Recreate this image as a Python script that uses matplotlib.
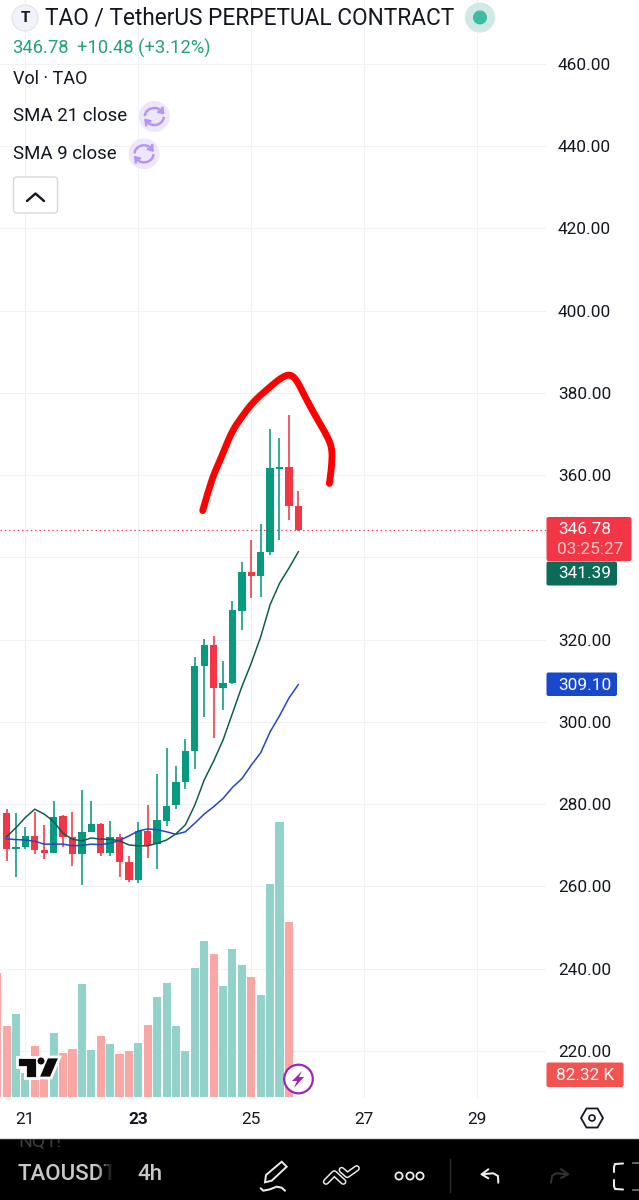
import numpy as np
import matplotlib
matplotlib.use('Agg')
import matplotlib.pyplot as plt
from matplotlib.patches import Circle, FancyBboxPatch, Polygon, Rectangle, RegularPolygon

plt.rcParams['font.family'] = ['Roboto', 'DejaVu Sans']

# ---------- data ----------
opens = [277.8, 269.0, 269.5, 272.3, 268.9, 268.1, 277.1, 272.1, 267.9, 273.3, 275.2, 268.2, 272.1, 265.9, 261.7, 273.6,
         270.3, 276.0, 279.8, 285.4, 293.0, 313.7, 318.7, 308.3, 309.5, 327.1, 336.4, 335.4, 341.4, 361.6, 362.1, 352.4]
closes = [269.0, 269.5, 272.3, 268.8, 268.1, 277.0, 272.1, 267.9, 273.3, 275.2, 268.1, 272.0, 265.9, 261.6, 273.6, 270.1,
          276.1, 279.6, 285.5, 293.0, 313.7, 318.7, 308.3, 309.5, 327.2, 336.4, 335.4, 341.3, 361.7, 362.1, 352.4, 346.78]
highs = [278.8, 277.8, 274.4, 278.0, 274.9, 280.9, 277.4, 278.2, 283.5, 280.9, 275.4, 275.9, 272.8, 267.3, 275.6, 279.7,
         287.3, 293.6, 289.3, 295.8, 315.7, 320.3, 320.9, 314.9, 329.3, 339.0, 344.3, 348.2, 371.3, 369.0, 374.7, 356.1]
lows = [266.1, 262.4, 269.0, 267.9, 266.8, 268.1, 269.5, 265.1, 260.3, 273.3, 267.3, 267.5, 262.3, 261.1, 260.9, 267.0,
        264.2, 274.6, 278.9, 283.6, 288.5, 301.1, 296.2, 302.8, 309.2, 322.4, 330.2, 330.5, 340.6, 344.3, 349.1, 346.5]
sma9 = [272.1, 274.3, 276.8, 278.8, 277.6, 275.8, 272.9, 271.5, 271.1, 271.8, 271.5, 271.5, 271.1, 270.1, 269.9, 269.9,
        270.5, 271.3, 272.8, 275.0, 279.8, 285.9, 290.5, 295.6, 302.1, 308.6, 314.3, 320.7, 328.5, 333.7, 337.4, 341.39]
sma21 = [271.6, 271.4, 271.3, 271.0, 270.3, 270.3, 270.3, 269.9, 270.0, 270.3, 270.2, 270.5, 271.2, 272.3, 273.5, 274.0,
         273.8, 273.3, 272.7, 273.3, 275.4, 277.6, 279.4, 281.4, 284.1, 286.2, 289.5, 292.5, 297.6, 301.5, 305.8, 309.10]
# volume bars begin one slot left of the first visible candle
volumes = [58.2, 33.5, 39.2, 11.0, 23.9, 11.0, 30.2, 20.5, 22.5, 53.0, 22.0, 28.6, 24.9, 20.0, 21.6, 25.5, 33.8,
           47.1, 53.7, 33.2, 21.6, 60.8, 73.7, 67.4, 52.4, 69.6, 62.0, 56.7, 48.0, 100.3, 129.7, 82.32]
volume_up = [0, 0, 1, 1, 0, 0, 1, 0, 0, 1, 1, 0, 1, 0, 0, 1, 0,
             1, 1, 1, 1, 1, 1, 0, 1, 1, 1, 0, 1, 1, 1, 0]
# hand-drawn red arc, in candle index / price
arc_idx = [20.84, 21.26, 21.97, 22.85, 23.92, 24.98, 26.22, 27.99, 29.23, 30.12, 30.82, 31.71, 32.77, 34.01, 34.61, 34.54, 34.30]
arc_price = [351.4, 354.8, 360.0, 364.5, 370.6, 374.2, 377.9, 381.5, 383.8, 384.6, 383.2, 379.1, 374.6, 369.8, 366.5, 362.1, 358.0]
price_ticks = list(range(220, 461, 20))
hidden_price_ticks = [340]  # covered by the price tags in the reference
date_tick_idx = [2, 14, 26, 38, 50]
date_labels = ['21', '23', '25', '27', '29']
last_price = 346.78

GREEN, RED = '#089981', '#F23645'
VOL_G, VOL_R = '#92D2CA', '#FAA6A4'
W, H = 639, 1200
PT = 0.72  # points per pixel at dpi 100


def rounded(xs, ys, passes=3):
    """Round the corners of a hand-drawn stroke (corner cutting, ends kept)."""
    p = np.column_stack([xs, ys])
    for _ in range(passes):
        q = np.empty((2 * len(p) - 2, 2))
        q[0::2] = 0.75 * p[:-1] + 0.25 * p[1:]
        q[1::2] = 0.25 * p[:-1] + 0.75 * p[1:]
        p = np.vstack([p[0], q, p[-1]])
    return p[:, 0], p[:, 1]


fig = plt.figure(figsize=(W / 100, H / 100), dpi=100, facecolor='white')
chart_pos = [0, (H - 1098) / H, 546 / W, 1098 / H]
xlim = (-0.70, 57.32)

# ---------- price pane ----------
ax = fig.add_axes(chart_pos, zorder=1)
ax.set_xlim(*xlim)
ax.set_ylim(208.57, 475.56)
for s in ax.spines.values():
    s.set_visible(False)
ax.grid(True, color='#F0F1F4', lw=0.75)
ax.set_axisbelow(True)
ax.yaxis.tick_right()
ax.set_yticks(price_ticks)
ax.set_yticklabels(['' if p in hidden_price_ticks else f'{p:.2f}' for p in price_ticks])
ax.set_xticks(date_tick_idx)
ax.set_xticklabels(date_labels)
ax.tick_params(axis='y', length=0, pad=8.6, labelsize=12.4, labelcolor='#131722')
ax.tick_params(axis='x', length=0, pad=10.2, labelsize=12.4, labelcolor='#131722')
ax.get_xticklabels()[1].set_fontweight('bold')

x = np.arange(len(opens))
o, c = np.array(opens), np.array(closes)
cols = [GREEN if cc >= oo else RED for oo, cc in zip(o, c)]
ax.vlines(x, lows, highs, colors=cols, lw=1.6 * PT, zorder=3)
ax.bar(x, np.abs(c - o), bottom=np.minimum(o, c), width=0.78, color=cols, linewidth=0, zorder=4)
ax.plot(x, sma9, color='#0B5C4C', lw=1.5 * PT, zorder=5)
ax.plot(x, sma21, color='#2145C4', lw=1.5 * PT, zorder=5)
ax.axhline(last_price, color=RED, lw=1.2 * PT, ls=(0, (1.2, 2.4)), zorder=2)
arc_x, arc_y = rounded(arc_idx, arc_price)
ax.plot(arc_x, arc_y, color='#FE0000', lw=6.8 * PT, solid_capstyle='round', solid_joinstyle='round', zorder=6)

# ---------- volume pane ----------
vx = fig.add_axes(chart_pos, zorder=2)
vx.patch.set_alpha(0)
vx.set_xlim(*xlim)
vx.set_ylim(-0.61, 517.8)
vx.axis('off')
vx.bar(np.arange(len(volumes)) - 1, volumes, width=0.86,
       color=[VOL_G if u else VOL_R for u in volume_up], linewidth=0)

# ---------- interface layer, in screen pixels ----------
ui = fig.add_axes([0, 0, 1, 1], zorder=3)
ui.patch.set_alpha(0)
ui.set_xlim(0, W)
ui.set_ylim(H, 0)
ui.axis('off')


def tag(x0, x1, y0, y1, color):
    ui.add_patch(FancyBboxPatch((x0 + 2, y0 + 2), x1 - x0 - 4, y1 - y0 - 4,
                                boxstyle='round,pad=2,rounding_size=2', fc=color, ec='none'))


tag(546.5, 631.5, 517, 561, '#F23645')
ui.text(585, 529.5, '346.78', color='white', fontsize=12.4, ha='center', va='center')
ui.text(590.5, 550, '03:25:27', color='#FBC4C9', fontsize=12.4, ha='center', va='center')
tag(546.5, 617, 561.5, 585.5, '#0B6B58')
ui.text(585, 574, '341.39', color='white', fontsize=12.4, ha='center', va='center')
tag(546.5, 617, 672.5, 696, '#1848CC')
ui.text(585, 685, '309.10', color='white', fontsize=12.4, ha='center', va='center')
tag(546.5, 623.5, 1062.5, 1087, '#F05350')
ui.text(585, 1075, '82.32 K', color='white', fontsize=12.4, ha='center', va='center')

# header
ui.add_patch(Circle((25, 18), 13, fc='#F0F3FA', ec='#DFE2EA', lw=0.8))
ui.text(25, 18.5, 'T', fontsize=11, fontweight='bold', color='#131722', ha='center', va='center')
ui.text(45, 18, 'TAO / TetherUS PERPETUAL CONTRACT', fontsize=16.3, color='#131722', ha='left', va='center')
ui.add_patch(Circle((480, 17.5), 15, fc='#CFE9E4', ec='none'))
ui.add_patch(Circle((480, 17.5), 7, fc='#3DBBA3', ec='none'))
ui.text(12, 48, '346.78', fontsize=13.2, color='#26A17B', ha='left', va='center')
ui.text(77, 48, '+10.48 (+3.12%)', fontsize=13.2, color='#26A17B', ha='left', va='center')
ui.text(13, 79, 'Vol · TAO', fontsize=13, color='#131722', ha='left', va='center')
ui.text(13, 116, 'SMA 21 close', fontsize=13.4, color='#131722', ha='left', va='center')
ui.text(13, 154, 'SMA 9 close', fontsize=13.4, color='#131722', ha='left', va='center')


def refresh(cx, cy):
    ui.add_patch(Circle((cx, cy), 15.5, fc='#EEE6FB', ec='none'))
    col = '#B393F5'
    for a0, a1, tip in [(190, 335, 1), (10, 155, -1)]:
        t = np.radians(np.linspace(a0, a1, 30))
        ui.plot(cx + 9.5 * np.cos(t), cy + 8.5 * np.sin(t), color=col, lw=2.0 * PT * 1.2)
        ex, ey = cx + 9.5 * np.cos(t[-1]), cy + 8.5 * np.sin(t[-1])
        ui.plot([ex - 4.5 * tip, ex, ex - 0.5 * tip], [ey - 1.0 * tip, ey, ey - 5 * tip], color=col, lw=2.0 * PT * 1.2)


refresh(154.3, 116.5)
refresh(144, 153.8)
ui.add_patch(FancyBboxPatch((15.5, 179), 40, 32, boxstyle='round,pad=2,rounding_size=3',
                            fc='white', ec='#D6D8DE', lw=1.0))
ui.plot([27, 35.5, 44], [201, 193.5, 201], color='#131722', lw=2.4 * PT, solid_capstyle='round')

# TradingView mark
mark = dict(fc='#0B0B0B', ec='white', lw=2.0, joinstyle='miter')
ui.add_patch(Polygon([(17, 1057), (37, 1057), (37, 1078), (25, 1078), (25, 1067), (17, 1067)], **mark))
ui.add_patch(Polygon([(47, 1057), (60, 1057), (51, 1078), (38, 1078)], **mark))
ui.add_patch(Circle((41, 1061), 4.2, fc='#0B0B0B', ec='white', lw=1.0))

# lightning badge
ui.add_patch(Circle((298.5, 1079), 14.3, fc='white', ec='#9C27B0', lw=1.6))
ui.add_patch(Polygon([(302, 1071), (292, 1081), (297, 1081), (294, 1088), (304, 1077), (299, 1077)],
                     fc='#9C27B0', ec='none'))

# settings hexagon
ui.add_patch(RegularPolygon((592, 1118), 6, radius=11, orientation=np.pi / 2, fc='white', ec='#131722', lw=1.3))
ui.add_patch(Circle((592, 1118), 3, fc='white', ec='#131722', lw=1.2))

# bottom toolbar
ui.add_patch(Rectangle((0, 1138), W, 62, fc='black', ec='none'))
ui.plot([0, W], [1138, 1138], color='#E4E4E4', lw=1)
band = Rectangle((0, 1138.5), W, 62, transform=ui.transData)
nq = ui.text(18, 1142, 'NQ1!', fontsize=14, color='#3E3E3E', ha='left', va='center')
nq.set_clip_path(band)
nq.set_clip_on(True)
ui.text(18, 1175, 'TAOUSDT', fontsize=16, fontweight='medium', color='#C8C8C8', ha='left', va='center')
for i in range(12):
    ui.add_patch(Rectangle((98 + i * 1.4, 1160), 1.5, 30, fc='black', ec='none', alpha=min(1, (i + 1) / 11), zorder=4))
ui.add_patch(Rectangle((114, 1160), 12, 30, fc='black', ec='none', zorder=4))
ui.text(137, 1175, '4h', fontsize=16, fontweight='medium', color='#C8C8C8', ha='left', va='center', zorder=5)

wht = dict(color='#EDEDED', lw=1.7 * PT * 1.2, solid_capstyle='round', solid_joinstyle='round')
ui.add_patch(Polygon([(265, 1182.3), (266, 1175), (281.7, 1161.7), (286.7, 1166.7), (271.7, 1180.7)],
                     fc='none', ec='#EDEDED', lw=1.4))
ui.plot([260.7, 263.3, 270, 276.7, 281.7, 285], [1188.3, 1190.7, 1189.3, 1186.7, 1187.7, 1190.7], **wht)
for xs, ys in [([326, 334.3, 343.3], [1181.7, 1173.3, 1181.7]), ([341.7, 347.3, 356.7], [1170, 1175, 1168.3])]:
    ui.plot(xs, ys, color='#EDEDED', lw=6.4 * PT, solid_capstyle='round', solid_joinstyle='round')
    ui.plot(xs, ys, color='black', lw=3.4 * PT, solid_capstyle='round', solid_joinstyle='round')
for cx in (399, 410, 420):
    ui.add_patch(Circle((cx, 1176), 3.6, fc='none', ec='#EDEDED', lw=1.3))
ui.plot([450, 450], [1159, 1192], color='#2E2E2E', lw=1)
ui.plot([488.3, 481.7, 488.3], [1169.3, 1174.3, 1178.3], **wht)
ui.plot([481.7, 493.3, 498, 498.3], [1174.3, 1173.3, 1176, 1182.7], **wht)
dim = dict(wht, color='#333333')
ui.plot([561, 568, 561], [1169, 1174.3, 1178], **dim)
ui.plot([568, 556, 552, 551], [1174.3, 1173.3, 1176, 1182.7], **dim)
ui.plot([623, 615, 614, 614], [1163.5, 1164, 1167, 1172], **wht)
ui.plot([614, 614, 615, 623], [1180, 1186, 1189, 1189.5], **wht)
ui.plot([632.7, 639], [1163, 1163], color='#777777', lw=1.2)
ui.plot([632.7, 639], [1189.5, 1189.5], color='#777777', lw=1.2)
ui.set_xlim(0, W)
ui.set_ylim(H, 0)

fig.savefig('out.png', dpi=100, facecolor='white')
